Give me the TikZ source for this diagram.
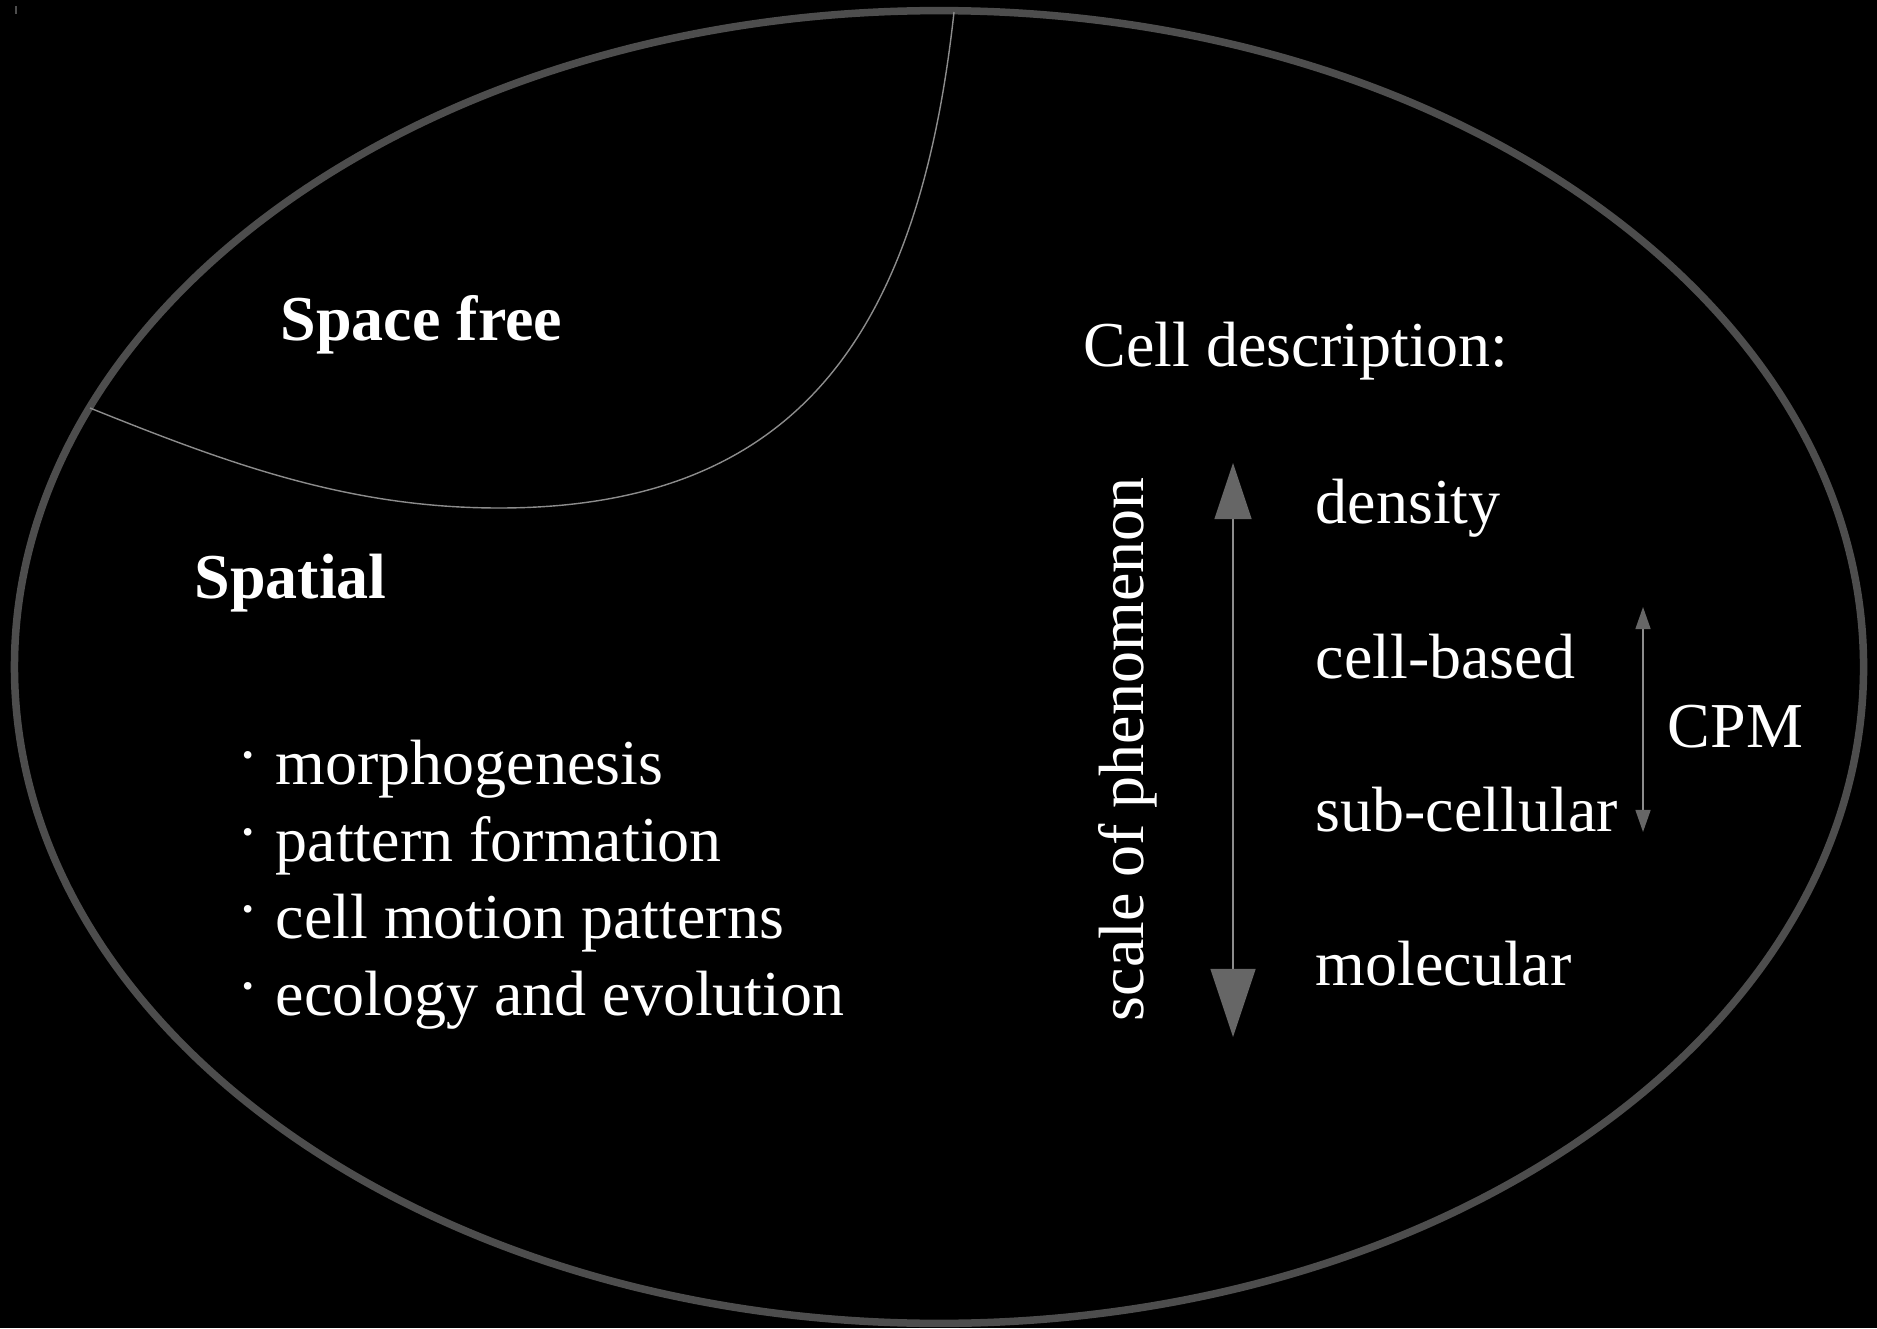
\documentclass[tikz,border=0pt]{standalone}
\usepackage{fontspec}
\setmainfont{Liberation Serif}
\usepackage{tikz}
\usetikzlibrary{arrows.meta,positioning,calc}
\usepackage{xcolor}
\definecolor{ringgray}{RGB}{77,77,77}
\definecolor{linegray}{RGB}{140,140,140}
\definecolor{headgray}{RGB}{102,102,102}

\newcommand{\itemdot}{\raisebox{0.12em}{·}\hspace{0.26em}}

\begin{document}
\begin{tikzpicture}[
  x=0.01cm, y=-0.01cm,
  lbl/.style={text=white, inner sep=0pt, anchor=base west, font=\fontsize{18.2}{22}\selectfont},
  ttl/.style={lbl, font=\fontsize{18.2}{22}\selectfont\bfseries},
  ring/.style={draw=ringgray, line width=0.075cm},
  split/.style={draw=linegray, line width=0.4pt},
  bigarr/.style={{Triangle[length=0.56cm,width=0.37cm,color=headgray]}-{Triangle[length=0.68cm,width=0.45cm,color=headgray]}, draw=linegray, line width=0.4pt},
  smallarr/.style={{Triangle[length=0.22cm,width=0.15cm,color=headgray]}-{Triangle[length=0.22cm,width=0.15cm,color=headgray]}, draw=linegray, line width=0.4pt},
]

% ─── Background (fixes the page size) ───
\fill[black] (0,0) rectangle (1877,1328);
\useasboundingbox (0,0) rectangle (1877,1328);
\draw[ringgray, line width=0.3pt] (16,6) -- (16,14);

% ─── Outer ellipse ───
\draw[ring] (939,667) ellipse [x radius=9.24cm, y radius=6.56cm];

% ─── Space-free region boundary ───
\coordinate (freetop)  at (954,12);
\coordinate (freelow)  at (499,508);
\coordinate (freeleft) at (90,408);
\draw[split] (freetop) .. controls (919,332) and (799,508) .. (freelow)
             .. controls (349,508) and (229,464) .. (freeleft);

% ─── Left side: model classes ───
\node[ttl] (spacefree) at (280,341) {Space free};
\node[ttl] (spatial)   at (194,598) {Spatial};

\node[lbl] (morpho)  at (237,784)  {\itemdot morphogenesis};
\node[lbl] (pattern) at (237,861)  {\itemdot pattern formation};
\node[lbl] (motion)  at (237,938)  {\itemdot cell motion patterns};
\node[lbl] (ecology) at (237,1015) {\itemdot ecology and evolution};

% ─── Right side: cell description scale ───
\node[lbl] (celldesc) at (1083,367) {Cell description:};

\node[lbl, rotate=90] (scale) at (1143,1022) {scale of phenomenon};

\node[lbl] (density)   at (1315,524) {density};
\node[lbl] (cellbased) at (1315,678) {cell-based};
\node[lbl] (subcell)   at (1315,831) {sub-cellular};
\node[lbl] (molecular) at (1315,985) {molecular};

\node[lbl] (cpm) at (1667,747) {CPM};

% ─── Arrows ───
\coordinate (scaletop) at (1233,463);
\coordinate (scalebot) at (1233,1037);
\draw[bigarr] (scaletop) -- (scalebot);

\coordinate (cpmtop) at (1643,607);
\coordinate (cpmbot) at (1643,832);
\draw[smallarr] (cpmtop) -- (cpmbot);

\end{tikzpicture}
\end{document}
